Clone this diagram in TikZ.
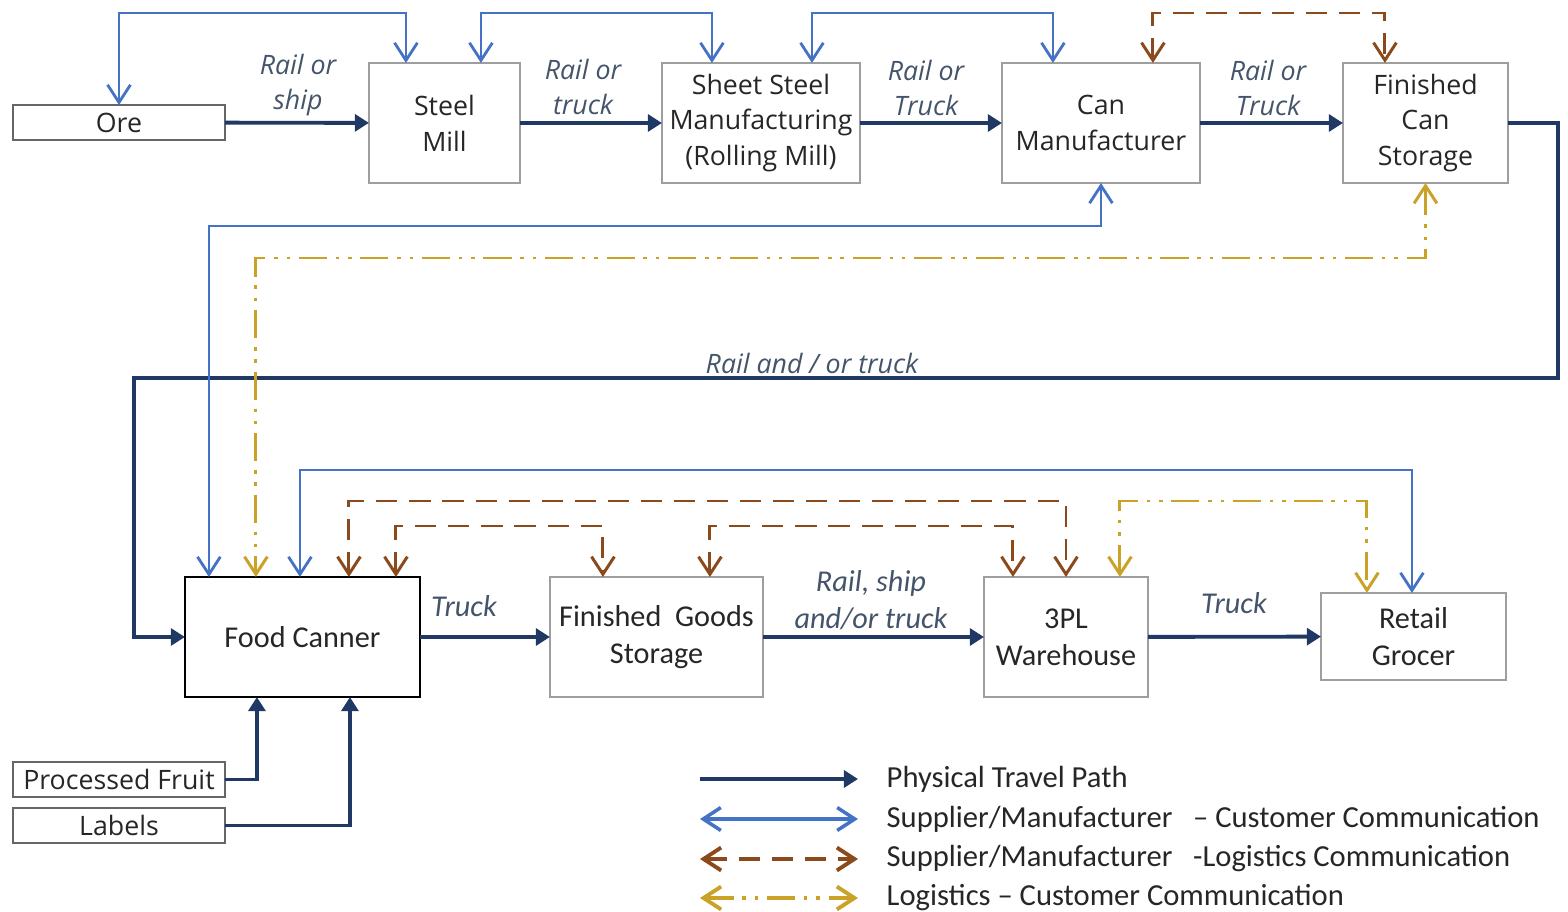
\documentclass[tikz,border=0pt]{standalone}
\usepackage{fontspec}
\setmainfont{Open Sans}
\newfontfamily\calf{Carlito}
\usetikzlibrary{arrows.meta,calc}
\definecolor{navy}{HTML}{1F3864}
\definecolor{cblue}{HTML}{4472C4}
\definecolor{cbrown}{HTML}{8A4A1C}
\definecolor{cgold}{HTML}{C9A227}
\definecolor{lbl}{HTML}{44546A}
\definecolor{txt}{HTML}{262626}
\begin{document}
\begin{tikzpicture}[x=0.01cm,y=-0.01cm,
  topfont/.style={font=\fontsize{7.6}{10.2}\selectfont},
  botfont/.style={font=\calf\fontsize{8.6}{10.5}\selectfont},
  box/.style={draw=black!38,line width=0.4pt,inner sep=0pt,outer sep=0pt,align=center,text=txt},
  sbox/.style={box,draw=black!60,minimum width=2.12cm,minimum height=0.35cm},
  phys/.style={draw=navy,line width=1.1pt,-{Triangle[length=4pt,width=4.8pt]}},
  commtip/.style={{Straight Barb[length=5pt,width=6.5pt]}-{Straight Barb[length=5pt,width=6.5pt]}},
  comm/.style={draw=cblue,line width=0.8pt,commtip},
  logi/.style={draw=cbrown,line width=0.85pt,dash pattern=on 6pt off 3.4pt,commtip},
  cust/.style={draw=cgold,line width=0.85pt,dash pattern=on 8pt off 2.5pt on 1pt off 2.5pt on 1pt off 2.5pt,commtip},
  ilbl/.style={text=lbl,align=center,font=\itshape\fontsize{7.6}{10.2}\selectfont},
  iblbl/.style={text=lbl,align=center,font=\calf\itshape\fontsize{8.6}{10.5}\selectfont},
  legtxt/.style={anchor=west,text=txt,font=\calf\fontsize{8.7}{10.5}\selectfont,inner sep=0pt}]
\useasboundingbox (0,0) rectangle (1568,912);

% ---- top row
\node[sbox,topfont] (ore) at (119,122.5) {Ore};
\node[box,topfont,minimum width=1.51cm,minimum height=1.2cm] (steel) at (444.5,123) {Steel\\Mill};
\node[box,topfont,minimum width=1.98cm,minimum height=1.2cm] (sheet) at (761,123) {Sheet Steel\\Manufacturing\\(Rolling Mill)};
\node[box,topfont,minimum width=1.98cm,minimum height=1.2cm] (canm) at (1101,123) {Can\\Manufacturer};
\node[box,topfont,minimum width=1.65cm,minimum height=1.2cm] (fcs) at (1425.5,123) {Finished\\Can\\Storage};

% ---- bottom row
\node[box,botfont,draw=black,line width=0.6pt,minimum width=2.35cm,minimum height=1.2cm] (canner) at (302.5,637) {Food Canner};
\node[box,botfont,minimum width=2.13cm,minimum height=1.2cm] (fgs) at (656.5,637) {Finished~~Goods\\Storage};
\node[box,botfont,minimum width=1.64cm,minimum height=1.2cm] (tpl) at (1066,637) {3PL\\Warehouse};
\node[box,botfont,minimum width=1.85cm,minimum height=0.87cm] (ret) at (1413.5,636.5) {Retail\\Grocer};
\node[sbox,topfont] (pf) at (119,779.5) {Processed Fruit};
\node[sbox,topfont] (lab) at (119,825.5) {Labels};

% ---- physical paths
\draw[phys] (ore) -- (steel);
\draw[phys] (steel) -- (sheet);
\draw[phys] (sheet) -- (canm);
\draw[phys] (canm) -- (fcs);
\draw[phys] (fcs.east) -| (1558,378) -- (134,378) |- (canner.west);
\draw[phys] (canner) -- (fgs);
\draw[phys] (fgs) -- (tpl);
\draw[phys] (tpl) -- (ret);
\draw[phys] (pf.east) -| ($(canner.south west)+(72,0)$);
\draw[phys] (lab.east) -| ($(canner.south west)+(165,0)$);

% ---- supplier/manufacturer - customer communication
\draw[comm] (ore.north) |- (250,13) -| ($(steel.north west)+(37,0)$);
\draw[comm] ($(steel.north west)+(112,0)$) |- (600,13) -| ($(sheet.north west)+(50,0)$);
\draw[comm] ($(sheet.north west)+(150,0)$) |- (930,13) -| ($(canm.north west)+(51,0)$);
\draw[comm] (canm.south) |- (600,226) -| ($(canner.north west)+(24,0)$);
\draw[comm] ($(canner.north west)+(115,0)$) |- (900,470) -| ($(ret.north west)+(91,0)$);

% ---- supplier/manufacturer - logistics communication
\draw[logi] ($(canm.north west)+(151,0)$) |- (1270,13) -| ($(fcs.north west)+(42,0)$);
\draw[logi] ($(canner.north west)+(164,0)$) |- (700,501) -| (tpl.north);
\draw[logi] ($(canner.north west)+(211,0)$) |- (500,526) -| ($(fgs.north west)+(53,0)$);
\draw[logi] ($(fgs.north west)+(160,0)$) |- (860,526) -| ($(tpl.north west)+(29,0)$);

% ---- logistics - customer communication
\draw[cust] (fcs.south) |- (800,258) -| ($(canner.north west)+(71,0)$);
\draw[cust] ($(tpl.north west)+(136,0)$) |- (1250,501) -| ($(ret.north west)+(46,0)$);

% ---- route labels
\node[ilbl] (l1) at (298,85) {Rail or\\ship};
\node[ilbl] (l2) at (583,87) {Rail or\\truck};
\node[ilbl] (l3) at (926,88) {Rail or\\Truck};
\node[ilbl] (l4) at (1268,88) {Rail or\\Truck};
\node[ilbl] (l5) at (812,363) {Rail and / or truck};
\node[iblbl] (l6) at (464,606) {Truck};
\node[iblbl] (l7) at (871,600) {Rail, ship\\and/or truck};
\node[iblbl] (l8) at (1234,603) {Truck};

% ---- legend
\coordinate (g1a) at (700,779); \coordinate (g1b) at (858,779);
\coordinate (g2a) at (700,819); \coordinate (g2b) at (858,819);
\coordinate (g3a) at (700,859); \coordinate (g3b) at (858,859);
\coordinate (g4a) at (700,898); \coordinate (g4b) at (858,898);
\draw[phys] (g1a) -- (g1b);
\draw[comm,line width=1pt] (g2a) -- (g2b);
\draw[logi,line width=1.1pt] (g3a) -- (g3b);
\draw[cust,line width=1.1pt] (g4a) -- (g4b);
\node[legtxt] (t1) at (886,779) {Physical Travel Path};
\node[legtxt] (t2) at (886,819) {Supplier/Manufacturer~~~– Customer Communication};
\node[legtxt] (t3) at (886,859) {Supplier/Manufacturer~~~-Logistics Communication};
\node[legtxt] (t4) at (886,898) {Logistics – Customer Communication};
\end{tikzpicture}
\end{document}
